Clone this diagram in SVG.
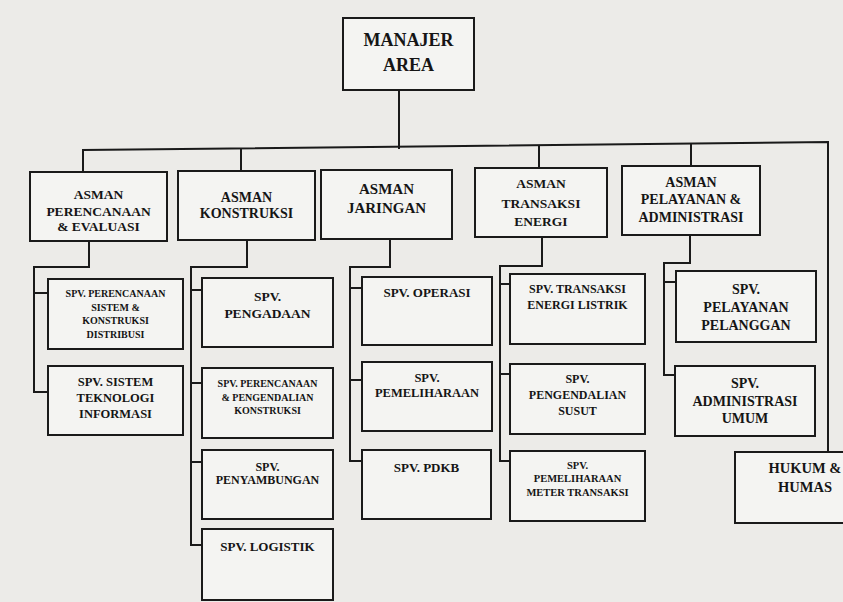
<svg xmlns="http://www.w3.org/2000/svg" width="843" height="602" viewBox="0 0 843 602">
<style>
.box{fill:#f4f4f2;stroke:#1a1a1a;stroke-width:2}
.ln{fill:none;stroke:#1a1a1a;stroke-width:2}
text{font-family:"Liberation Serif","Times New Roman",serif;font-weight:bold;fill:#151515;text-anchor:middle}
</style>
<rect width="843" height="602" fill="#ecebe8"/>
<g id="connectors">
<path class="ln" d="M399,90 V149"/>
<path class="ln" d="M83,172 V150 L828,142 V452"/>
<path class="ln" d="M241,171 V148.3"/>
<path class="ln" d="M539,168 V145.2"/>
<path class="ln" d="M691,166 V143.5"/>
<path class="ln" d="M89,241 V267 H34 V392 H48 M34,293 H48"/>
<path class="ln" d="M247,240 V267 H191 V545 H202 M191,290 H202 M191,383 H202 M191,462 H202"/>
<path class="ln" d="M390,239 V267 H350 V461 H362 M350,288 H362 M350,380 H362"/>
<path class="ln" d="M542,237 V266 H500 V461 H510 M500,284 H510 M500,374 H510"/>
<path class="ln" d="M690,235 V263 H664 V375 H676 M664,282 H676"/>
</g>
<g id="manajer-area"><rect class="box" x="343" y="18" width="131" height="72"/><text x="408.5" y="46" font-size="18">MANAJER</text><text x="408.5" y="71" font-size="18">AREA</text></g>
<g id="asman-perencanaan"><rect class="box" x="30" y="172" width="137" height="69"/><text x="98.5" y="199" font-size="13.5">ASMAN</text><text x="98.5" y="216" font-size="13.5">PERENCANAAN</text><text x="98.5" y="231" font-size="13.5">&amp; EVALUASI</text></g>
<g id="asman-konstruksi"><rect class="box" x="178" y="171" width="137" height="69"/><text x="246.5" y="202" font-size="14">ASMAN</text><text x="246.5" y="218" font-size="14">KONSTRUKSI</text></g>
<g id="asman-jaringan"><rect class="box" x="321" y="170" width="131" height="69"/><text x="386.5" y="193.5" font-size="15">ASMAN</text><text x="386.5" y="212.5" font-size="15">JARINGAN</text></g>
<g id="asman-transaksi"><rect class="box" x="475" y="168" width="132" height="69"/><text x="541" y="188" font-size="13.5">ASMAN</text><text x="541" y="208" font-size="13.5">TRANSAKSI</text><text x="541" y="226" font-size="13.5">ENERGI</text></g>
<g id="asman-pelayanan"><rect class="box" x="622" y="166" width="138" height="69"/><text x="691" y="187" font-size="14">ASMAN</text><text x="691" y="204" font-size="14">PELAYANAN &amp;</text><text x="691" y="222" font-size="14">ADMINISTRASI</text></g>
<g id="spv-perencanaan-sistem"><rect class="box" x="48" y="279" width="135" height="70"/><text x="115.5" y="296.5" font-size="10">SPV. PERENCANAAN</text><text x="115.5" y="310.5" font-size="10">SISTEM &amp;</text><text x="115.5" y="323.5" font-size="10">KONSTRUKSI</text><text x="115.5" y="337.5" font-size="10">DISTRIBUSI</text></g>
<g id="spv-sistem-ti"><rect class="box" x="48" y="366" width="135" height="69"/><text x="115.5" y="385.5" font-size="12.5">SPV. SISTEM</text><text x="115.5" y="401.5" font-size="12.5">TEKNOLOGI</text><text x="115.5" y="417.5" font-size="12.5">INFORMASI</text></g>
<g id="spv-pengadaan"><rect class="box" x="202" y="278" width="131" height="69"/><text x="267.5" y="301" font-size="13.5">SPV.</text><text x="267.5" y="318" font-size="13.5">PENGADAAN</text></g>
<g id="spv-perencanaan-pengendalian"><rect class="box" x="202" y="368" width="131" height="70"/><text x="267.5" y="386.5" font-size="10">SPV. PERENCANAAN</text><text x="267.5" y="400.5" font-size="10">&amp; PENGENDALIAN</text><text x="267.5" y="413.5" font-size="10">KONSTRUKSI</text></g>
<g id="spv-penyambungan"><rect class="box" x="202" y="450" width="131" height="69"/><text x="267.5" y="471" font-size="12">SPV.</text><text x="267.5" y="484" font-size="12">PENYAMBUNGAN</text></g>
<g id="spv-logistik"><rect class="box" x="202" y="529" width="131" height="71"/><text x="267.5" y="550.5" font-size="13">SPV. LOGISTIK</text></g>
<g id="spv-operasi"><rect class="box" x="362" y="277" width="130" height="68"/><text x="427" y="296.5" font-size="13">SPV. OPERASI</text></g>
<g id="spv-pemeliharaan"><rect class="box" x="362" y="362" width="130" height="69"/><text x="427" y="381.5" font-size="12.5">SPV.</text><text x="427" y="396.5" font-size="12.5">PEMELIHARAAN</text></g>
<g id="spv-pdkb"><rect class="box" x="362" y="450" width="129" height="69"/><text x="426.5" y="471.5" font-size="13">SPV. PDKB</text></g>
<g id="spv-transaksi-energi"><rect class="box" x="510" y="274" width="135" height="70"/><text x="577.5" y="293" font-size="12">SPV. TRANSAKSI</text><text x="577.5" y="309" font-size="12">ENERGI LISTRIK</text></g>
<g id="spv-pengendalian-susut"><rect class="box" x="510" y="364" width="135" height="70"/><text x="577.5" y="383" font-size="12">SPV.</text><text x="577.5" y="399" font-size="12">PENGENDALIAN</text><text x="577.5" y="415" font-size="12">SUSUT</text></g>
<g id="spv-pemeliharaan-meter"><rect class="box" x="510" y="451" width="135" height="70"/><text x="577.5" y="468.5" font-size="10.5">SPV.</text><text x="577.5" y="481.5" font-size="10.5">PEMELIHARAAN</text><text x="577.5" y="495.5" font-size="10.5">METER TRANSAKSI</text></g>
<g id="spv-pelayanan-pelanggan"><rect class="box" x="676" y="271" width="140" height="71"/><text x="746" y="294" font-size="14">SPV.</text><text x="746" y="312" font-size="14">PELAYANAN</text><text x="746" y="330" font-size="14">PELANGGAN</text></g>
<g id="spv-administrasi-umum"><rect class="box" x="675" y="366" width="140" height="70"/><text x="745" y="388" font-size="14">SPV.</text><text x="745" y="406" font-size="14">ADMINISTRASI</text><text x="745" y="423" font-size="14">UMUM</text></g>
<g id="hukum-humas"><rect class="box" x="735" y="452" width="135" height="71"/><text x="805" y="473" font-size="14.5">HUKUM &amp;</text><text x="805" y="492" font-size="14.5">HUMAS</text></g>
</svg>
